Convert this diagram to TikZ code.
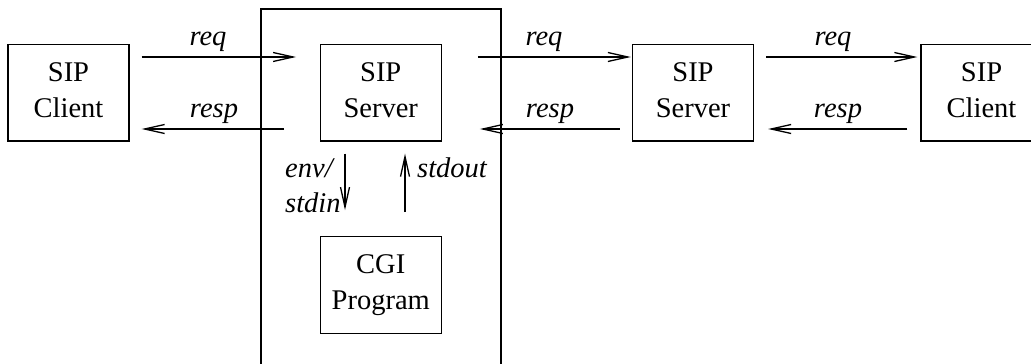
\documentclass[tikz,border=0pt]{standalone}
\usepackage{fontspec}
\setmainfont{Liberation Serif}
\newfontfamily\tms{Liberation Serif}
\usetikzlibrary{arrows.meta}
\begin{document}
\begin{tikzpicture}[x=1pt,y=-1pt,
  box/.style={draw, line width=1.3pt, inner sep=0pt, minimum width=121pt,
    minimum height=96.5pt, align=center,
    font=\tms\fontsize{28.5}{36}\selectfont, text depth=5pt},
  flow/.style={line width=1.3pt, -{Straight Barb[length=20pt,width=9pt]}},
  lbl/.style={font=\tms\itshape\fontsize{28.5}{34}\selectfont, inner sep=0pt, anchor=base},
]
\useasboundingbox (0,0) rectangle (1031,364);
\clip (0,0) rectangle (1031,364);

% host running the server together with its CGI program
\draw[line width=2.4pt] (261,9) rectangle (501,390);

% boxes
\node[box] (cliL) at (68.5,92.75) {SIP\\Client};
\node[box] (srvM) at (380.75,92.75) {SIP\\Server};
\node[box] (cgi)  at (380.75,285) {CGI\\Program};
\node[box] (srvR) at (693,92.75) {SIP\\Server};
\node[box] (cliR) at (981.5,92.75) {SIP\\Client};

% reference heights of the request and response lines
\coordinate (rq) at (0,57);
\coordinate (rs) at (0,129);
\coordinate (dn) at (345,0);
\coordinate (up) at (405,0);

% requests
\draw[flow, shorten <=12pt, shorten >=23.5pt] (cliL.east |- rq) -- (srvM.west |- rq);
\draw[flow, shorten <=36pt, shorten >=1pt] (srvM.east |- rq) -- (srvR.west |- rq);
\draw[flow, shorten <=12pt, shorten >=3pt] (srvR.east |- rq) -- (cliR.west |- rq);

% responses
\draw[flow, shorten <=35.5pt, shorten >=12pt] (srvM.west |- rs) -- (cliL.east |- rs);
\draw[flow, shorten <=12pt, shorten >=38pt] (srvR.west |- rs) -- (srvM.east |- rs);
\draw[flow, shorten <=13pt, shorten >=14pt] (cliR.west |- rs) -- (srvR.east |- rs);

% server <-> CGI program
\draw[flow, shorten <=12pt, shorten >=26pt] (dn |- srvM.south) -- (dn |- cgi.north);
\draw[flow, shorten <=24pt, shorten >=12pt] (up |- cgi.north) -- (up |- srvM.south);

% labels
\node[lbl] (lq1) at (208,45) {req};
\node[lbl] (ls1) at (214,117) {resp};
\node[lbl] (lq2) at (544,45) {req};
\node[lbl] (ls2) at (550,117) {resp};
\node[lbl] (lq3) at (833,45) {req};
\node[lbl] (ls3) at (838,117) {resp};
\node[lbl, anchor=base west] (lenv) at (285,177) {env/};
\node[lbl, anchor=base west] (lin)  at (285,212) {stdin};
\node[lbl, anchor=base west] (lout) at (417,177) {stdout};
\end{tikzpicture}
\end{document}
